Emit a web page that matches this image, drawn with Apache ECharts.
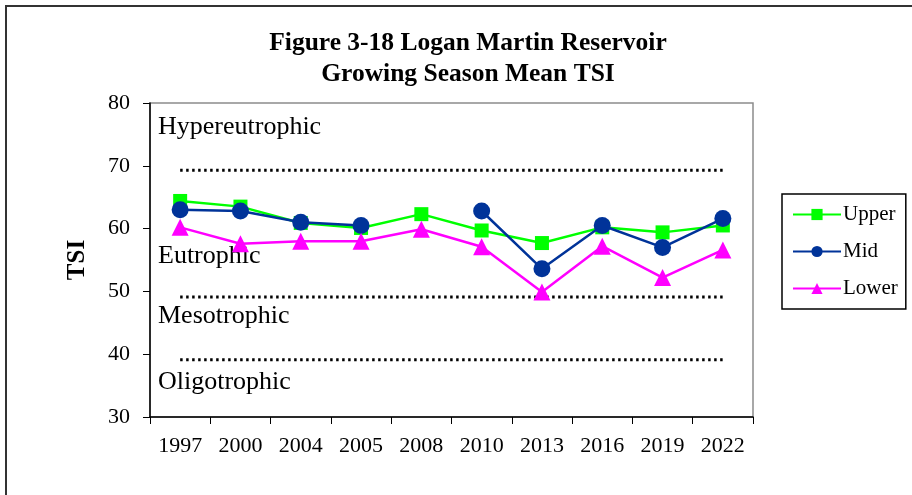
<!DOCTYPE html>
<html>
<head>
    <meta charset="utf-8">
    <style>
        html, body { margin: 0; padding: 0; background: #fff; }
        #chart { width: 912px; height: 495px; }
    </style>
    <script src="https://cdn.jsdelivr.net/npm/echarts@6/dist/echarts.min.js"></script>
</head>
<body>
<div id="chart"></div>
<script>
    // data
    var years = ['1997', '2000', '2004', '2005', '2008', '2010', '2013', '2016', '2019', '2022'];
    var upper = [64.4, 63.5, 60.9, 60.1, 62.3, 59.7, 57.7, 60.2, 59.4, 60.5];
    var mid   = [63.0, 62.8, 61.0, 60.5, null, 62.8, 53.6, 60.5, 57.0, 61.6];
    var lower = [60.2, 57.6, 58.0, 58.0, 59.9, 57.1, 49.9, 57.2, 52.2, 56.6];
    // trophic class boundaries (dotted lines)
    var hyperLine = [69.3, 69.3, 69.3, 69.3, 69.3, 69.3, 69.3, 69.3, 69.3, 69.3];
    var mesoLine  = [49.1, 49.1, 49.1, 49.1, 49.1, 49.1, 49.1, 49.1, 49.1, 49.1];
    var oligoLine = [39.1, 39.1, 39.1, 39.1, 39.1, 39.1, 39.1, 39.1, 39.1, 39.1];
    var yTicks = [30, 40, 50, 60, 70, 80];

    var serif = '"Liberation Serif", "DejaVu Serif", serif';

    var myChart = echarts.init(document.getElementById('chart'));

    function boundary(data) {
        return {
            type: 'line',
            data: data,
            symbol: 'none',
            silent: true,
            z: 1,
            lineStyle: { color: '#000', width: 3, type: [2.5, 3.5] }
        };
    }

    // trophic class names inside the plot
    function regionLabel(txt, y) {
        return {
            type: 'text',
            x: 158,
            y: y,
            style: { text: txt, font: '26px ' + serif, fill: '#000', verticalAlign: 'middle' }
        };
    }

    var option = {
        animation: false,
        title: {
            text: 'Figure 3-18 Logan Martin Reservoir\nGrowing Season Mean TSI',
            left: 463,
            textAlign: 'center',
            top: 23,
            textStyle: {
                fontFamily: serif,
                fontWeight: 'bold',
                fontSize: 25.5,
                lineHeight: 31,
                color: '#000'
            }
        },
        legend: {
            data: ['Upper', 'Mid', 'Lower'],
            orient: 'vertical',
            left: 782,
            top: 194,
            padding: [10, 8, 10, 10],
            itemGap: 16,
            itemWidth: 48,
            itemHeight: 14,
            borderColor: '#000',
            borderWidth: 1.5,
            borderRadius: 0,
            textStyle: { fontFamily: serif, fontSize: 21, color: '#000', padding: [0, 0, 0, -3] }
        },
        graphic: [
            { type: 'rect', shape: { x: 6, y: 6, width: 920, height: 500 },
              style: { fill: 'none', stroke: '#333', lineWidth: 2 }, silent: true },
            regionLabel('Hypereutrophic', 127),
            regionLabel('Eutrophic', 256),
            regionLabel('Mesotrophic', 316),
            regionLabel('Oligotrophic', 382)
        ],
        grid: {
            left: 150,
            right: 159,
            top: 103,
            bottom: 78,
            show: true,
            borderColor: '#8c8c8c',
            borderWidth: 1.5
        },
        xAxis: {
            type: 'category',
            data: years,
            boundaryGap: true,
            axisLine: { lineStyle: { color: '#000', width: 1.5 } },
            axisTick: { show: true, length: 7, inside: false, lineStyle: { color: '#000' } },
            axisLabel: { fontFamily: serif, fontSize: 22, color: '#000', margin: 18 },
            splitLine: { show: false }
        },
        yAxis: {
            type: 'value',
            min: yTicks[0],
            max: yTicks[yTicks.length - 1],
            interval: 10,
            name: 'TSI',
            nameLocation: 'middle',
            nameGap: 60,
            nameRotate: 90,
            nameTextStyle: { fontFamily: serif, fontSize: 25, fontWeight: 'bold', color: '#000' },
            axisLine: { show: true, lineStyle: { color: '#000', width: 1.5 } },
            axisTick: { show: true, length: 7, lineStyle: { color: '#000' } },
            axisLabel: { fontFamily: serif, fontSize: 22, color: '#000', margin: 20 },
            splitLine: { show: false }
        },
        series: [
            boundary(hyperLine),
            boundary(mesoLine),
            boundary(oligoLine),
            {
                name: 'Upper',
                type: 'line',
                data: upper,
                symbol: 'rect',
                symbolSize: 14,
                z: 3,
                itemStyle: { color: '#00ff00' },
                lineStyle: { color: '#00ff00', width: 2.5 }
            },
            {
                name: 'Mid',
                type: 'line',
                data: mid,
                connectNulls: false,
                symbol: 'circle',
                symbolSize: 17,
                z: 4,
                itemStyle: { color: '#003399' },
                lineStyle: { color: '#003399', width: 2.5 }
            },
            {
                name: 'Lower',
                type: 'line',
                data: lower,
                symbol: 'triangle',
                symbolSize: 17,
                z: 5,
                itemStyle: { color: '#ff00ff' },
                lineStyle: { color: '#ff00ff', width: 2.5 }
            }
        ]
    };

    myChart.setOption(option);
</script>
</body>
</html>
